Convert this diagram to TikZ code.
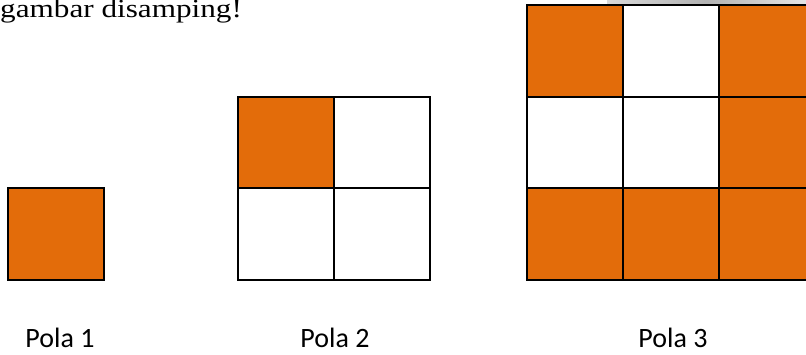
\documentclass[tikz,border=0pt]{standalone}
\usepackage{fontspec}
\setmainfont{Liberation Serif}
\newfontfamily\labelfont{Carlito}
\newfontfamily\headfont[FakeStretch=1.2]{Liberation Serif}
\usetikzlibrary{positioning}
\definecolor{onFill}{RGB}{227,108,10}
\definecolor{offFill}{RGB}{255,255,255}
\definecolor{gridBrd}{RGB}{0,0,0}
\tikzset{
  C/.style={draw=gridBrd, line width=2pt, inner sep=0pt, minimum width=96pt, minimum height=92pt},
  ON/.style={C, fill=onFill},
  OFF/.style={C, fill=offFill},
  LBL/.style={font=\labelfont\fontsize{28}{32}\selectfont, anchor=base},
}

\begin{document}
\begin{tikzpicture}[x=1pt, y=1pt, yscale=-1]

\useasboundingbox (0,0) rectangle (806,354);
\clip (0,0) rectangle (806,354);

%% ═══════════════════════════════════════════════════════════════════════════
%%  Header text and page shadow
%% ═══════════════════════════════════════════════════════════════════════════

\node[font=\headfont\fontsize{26}{30}\selectfont, anchor=base west, inner sep=0pt] (HEAD) at (0,17)
  {gambar disamping!};
\shade[left color=black!15, right color=black!10, middle color=black!30] (607,-2) rectangle (806,4.5);

%% ═══════════════════════════════════════════════════════════════════════════
%%  Pola 1
%% ═══════════════════════════════════════════════════════════════════════════

\node[ON] (P1) at (56,234) {};

%% ═══════════════════════════════════════════════════════════════════════════
%%  Pola 2
%% ═══════════════════════════════════════════════════════════════════════════

\node[ON]  (P2A) at (286,143) {};
\node[OFF] (P2B) at (382,143) {};
\node[OFF] (P2C) at (286,234) {};
\node[OFF] (P2D) at (382,234) {};

%% ═══════════════════════════════════════════════════════════════════════════
%%  Pola 3
%% ═══════════════════════════════════════════════════════════════════════════

\node[ON]  (P3A) at (575,51) {};
\node[OFF] (P3B) at (671,51) {};
\node[ON]  (P3C) at (767,51) {};
\node[OFF] (P3D) at (575,143) {};
\node[OFF] (P3E) at (671,143) {};
\node[ON]  (P3F) at (767,143) {};
\node[ON]  (P3G) at (575,234) {};
\node[ON]  (P3H) at (671,234) {};
\node[ON]  (P3I) at (767,234) {};

%% Labels
\node[LBL] (L1) at (60,347)  {Pola 1};
\node[LBL] (L2) at (335,347) {Pola 2};
\node[LBL] (L3) at (673,347) {Pola 3};

\end{tikzpicture}
\end{document}
